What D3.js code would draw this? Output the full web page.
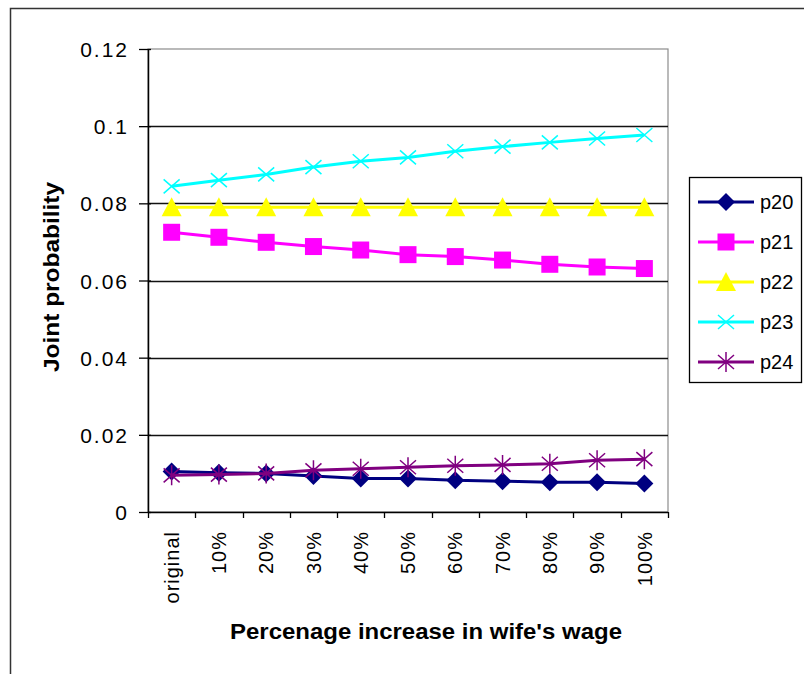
<!DOCTYPE html>
<html>
<head>
<meta charset="utf-8">
<script src="https://cdn.jsdelivr.net/npm/d3@7"></script>
<style>
  html, body { margin: 0; padding: 0; background: #fff; }
  svg { display: block; }
  text { font-family: "Liberation Sans", Arial, sans-serif; fill: #000; }
</style>
</head>
<body>
<svg id="chart" width="804" height="674"></svg>
<script>
// Categories along the x axis
const categories = ["original", "10%", "20%", "30%", "40%", "50%", "60%", "70%", "80%", "90%", "100%"];

// Joint probabilities for each outcome
const p20 = [0.0105, 0.0102, 0.0100, 0.0093, 0.0087, 0.0087, 0.0082, 0.0080, 0.0077, 0.0077, 0.0074];
const p21 = [0.0725, 0.0712, 0.0699, 0.0688, 0.0679, 0.0667, 0.0662, 0.0653, 0.0642, 0.0635, 0.0631];
const p22 = [0.0790, 0.0790, 0.0790, 0.0790, 0.0790, 0.0790, 0.0790, 0.0790, 0.0790, 0.0790, 0.0790];
const p23 = [0.0844, 0.0860, 0.0875, 0.0894, 0.0909, 0.0919, 0.0935, 0.0947, 0.0958, 0.0968, 0.0977];
const p24 = [0.0095, 0.0097, 0.0100, 0.0108, 0.0112, 0.0116, 0.0120, 0.0122, 0.0125, 0.0134, 0.0137];

const seriesNames = ["p20", "p21", "p22", "p23", "p24"];
const yTicks = [0, 0.02, 0.04, 0.06, 0.08, 0.1, 0.12];
const yTickLabels = ["0", "0.02", "0.04", "0.06", "0.08", "0.1", "0.12"];

const seriesValues = [p20, p21, p22, p23, p24];
const seriesColors = ["#000080", "#FF00FF", "#FFFF00", "#00FFFF", "#800080"];
const seriesMarkers = ["diamond", "square", "triangle", "cross", "star"];

// Marker shapes centred on the origin
function markerPath(kind) {
  switch (kind) {
    case "diamond": return "M0,-9L9,0L0,9L-9,0Z";
    case "square": return "M-8.5,-8.5H8.5V8.5H-8.5Z";
    case "triangle": return "M0,-10L10,9L-10,9Z";
    case "cross": return "M-8,-7L8,7M-8,7L8,-7";
    case "star": return "M-8,-7L8,7M-8,7L8,-7M0,-10V10";
  }
}
function markerIsFilled(kind) {
  return kind === "diamond" || kind === "square" || kind === "triangle";
}

const svg = d3.select("#chart");

// Chart area frame
svg.append("rect")
  .attr("x", 10.5).attr("y", 8.5)
  .attr("width", 900).attr("height", 700)
  .attr("fill", "#fff").attr("stroke", "#333").attr("stroke-width", 1.5);

const plot = { left: 148, right: 668, top: 49, bottom: 512 };

const x = d3.scaleBand().domain(categories).range([plot.left, plot.right]);
const y = d3.scaleLinear().domain([0, 0.12]).range([plot.bottom, plot.top]);

// Plot area border
svg.append("rect")
  .attr("x", plot.left).attr("y", plot.top)
  .attr("width", plot.right - plot.left).attr("height", plot.bottom - plot.top)
  .attr("fill", "#fff").attr("stroke", "#8c8c8c").attr("stroke-width", 1.2);

// Horizontal grid lines
svg.append("g")
  .selectAll("line")
  .data(yTicks.filter(v => v > 0 && v < 0.12))
  .join("line")
  .attr("x1", plot.left).attr("x2", plot.right)
  .attr("y1", d => Math.round(y(d)) + 0.5).attr("y2", d => Math.round(y(d)) + 0.5)
  .attr("stroke", "#111").attr("stroke-width", 1.3);

// Y axis
const yAxis = d3.axisLeft(y)
  .tickValues(yTicks)
  .tickFormat((d, i) => yTickLabels[i])
  .tickSizeInner(9)
  .tickSizeOuter(0)
  .tickPadding(11);
const gy = svg.append("g")
  .attr("transform", `translate(${plot.left},0)`)
  .call(yAxis);
gy.select(".domain").attr("stroke", "#000").attr("stroke-width", 1.5);
gy.selectAll(".tick line").attr("stroke", "#000").attr("stroke-width", 1.3).attr("x2", -9).attr("x1", 3);
gy.selectAll(".tick text")
  .style("font-size", "21px")
  .style("letter-spacing", "2px")
  .attr("x", -19)
  .attr("dy", "0.36em")
  .attr("fill", "#000");

// X axis line
svg.append("line")
  .attr("x1", plot.left).attr("x2", plot.right)
  .attr("y1", plot.bottom + 0.5).attr("y2", plot.bottom + 0.5)
  .attr("stroke", "#000").attr("stroke-width", 1.5);

// X ticks at category boundaries
const boundaries = d3.range(categories.length + 1).map(i => x.range()[0] + i * x.step());
svg.append("g")
  .selectAll("line")
  .data(boundaries)
  .join("line")
  .attr("x1", d => Math.round(d) + 0.5).attr("x2", d => Math.round(d) + 0.5)
  .attr("y1", plot.bottom).attr("y2", plot.bottom + 6)
  .attr("stroke", "#000").attr("stroke-width", 1.3);

// X tick labels, rotated
svg.append("g")
  .selectAll("text")
  .data(categories)
  .join("text")
  .attr("transform", d => `translate(${x(d) + x.bandwidth() / 2},${plot.bottom + 19}) rotate(-90)`)
  .attr("text-anchor", "end")
  .attr("dy", "0.36em")
  .style("font-size", "20px")
  .style("letter-spacing", "1px")
  .text(d => d);

// Axis titles
svg.append("text")
  .attr("x", 426).attr("y", 639)
  .attr("text-anchor", "middle")
  .attr("textLength", 392)
  .attr("lengthAdjust", "spacingAndGlyphs")
  .style("font-size", "22px").style("font-weight", "bold")
  .text("Percenage increase in wife's wage");

svg.append("text")
  .attr("transform", "translate(59,277) rotate(-90)")
  .attr("text-anchor", "middle")
  .attr("textLength", 190)
  .attr("lengthAdjust", "spacingAndGlyphs")
  .style("font-size", "22px").style("font-weight", "bold")
  .text("Joint probability");

// Series lines and markers
const line = d3.line()
  .x((d, i) => x(categories[i]) + x.bandwidth() / 2)
  .y(d => y(d));

seriesValues.forEach((vals, s) => {
  const g = svg.append("g");
  g.append("path")
    .attr("d", line(vals))
    .attr("fill", "none")
    .attr("stroke", seriesColors[s])
    .attr("stroke-width", 3);
  const kind = seriesMarkers[s];
  g.selectAll("path.marker")
    .data(vals)
    .join("path")
    .attr("class", "marker")
    .attr("transform", (d, i) => `translate(${x(categories[i]) + x.bandwidth() / 2},${y(d)})`)
    .attr("d", markerPath(kind))
    .attr("fill", markerIsFilled(kind) ? seriesColors[s] : "none")
    .attr("stroke", seriesColors[s])
    .attr("stroke-width", markerIsFilled(kind) ? 0 : 1.5);
});

// Legend
const legend = svg.append("g");
legend.append("rect")
  .attr("x", 689.5).attr("y", 177.5)
  .attr("width", 112).attr("height", 205)
  .attr("fill", "#fff").attr("stroke", "#000").attr("stroke-width", 1.3);

const legendY = d3.scalePoint().domain(seriesNames).range([202, 362]);
seriesNames.forEach((name, s) => {
  const ly = legendY(name);
  legend.append("line")
    .attr("x1", 698).attr("x2", 754)
    .attr("y1", ly).attr("y2", ly)
    .attr("stroke", seriesColors[s]).attr("stroke-width", 3);
  const kind = seriesMarkers[s];
  legend.append("path")
    .attr("transform", `translate(726,${ly})`)
    .attr("d", markerPath(kind))
    .attr("fill", markerIsFilled(kind) ? seriesColors[s] : "none")
    .attr("stroke", seriesColors[s])
    .attr("stroke-width", markerIsFilled(kind) ? 0 : 1.5);
  legend.append("text")
    .attr("x", 760).attr("y", ly)
    .attr("dy", "0.36em")
    .style("font-size", "20px")
    .text(name);
});
</script>
</body>
</html>
